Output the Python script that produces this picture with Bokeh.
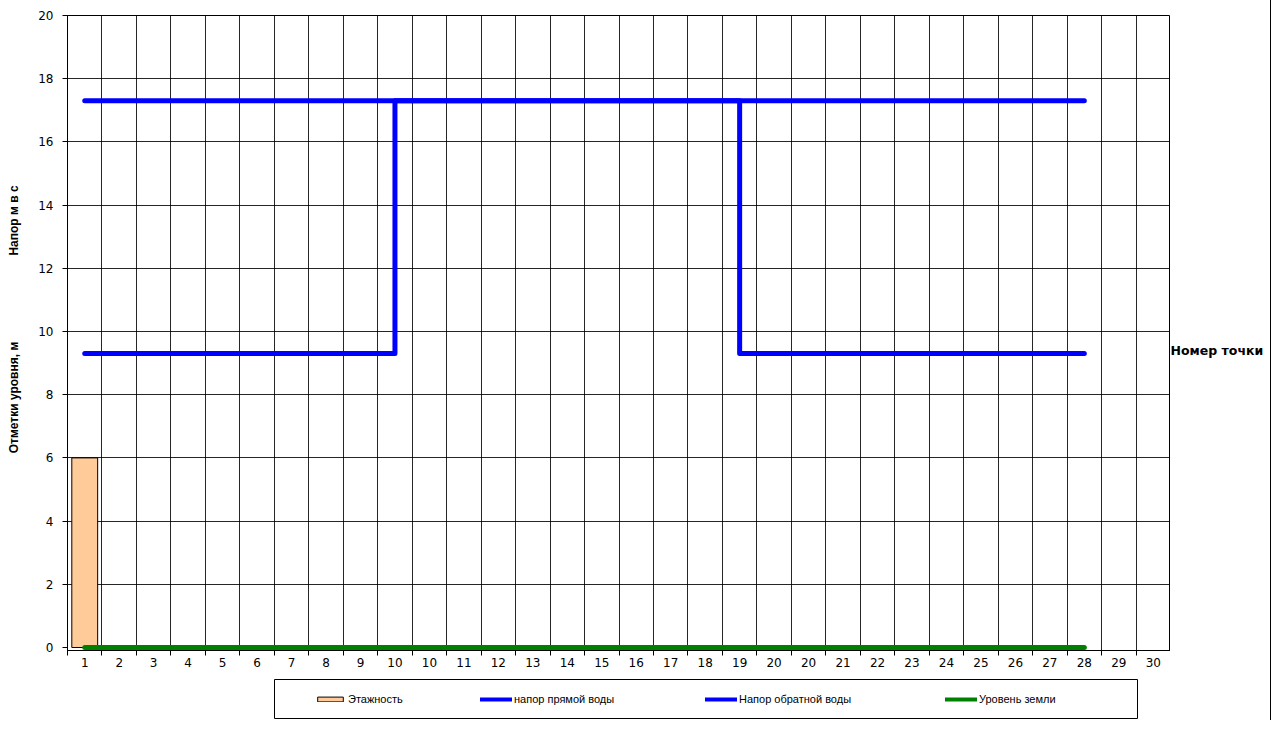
import math
from bokeh.plotting import figure
from bokeh.models import FixedTicker, Range1d, Label, Legend, LegendItem, Div, Spacer
from bokeh.layouts import column, row
from bokeh.embed import file_html
from bokeh.resources import INLINE

# x-axis category labels (point numbers)
point_labels = ["1", "2", "3", "4", "5", "6", "7", "8", "9", "10",
                "10", "11", "12", "13", "14", "15", "16", "17", "18", "19",
                "20", "20", "21", "22", "23", "24", "25", "26", "27", "28",
                "29", "30"]

# series (positions are 1-based indices into point_labels)
floors_pos = [1]
floors_val = [6]
direct_pos = [1, 30]
direct_val = [17.3, 17.3]
return_pos = [1, 10, 10, 20, 20, 30]
return_val = [9.3, 9.3, 17.3, 17.3, 9.3, 9.3]
ground_pos = [1, 30]
ground_val = [0, 0]

y_ticks = [0, 2, 4, 6, 8, 10, 12, 14, 16, 18, 20]

FONT = "DejaVu Sans"
TFONT = "Liberation Sans"
n = len(point_labels)

BAR_FILL = "#FFCC99"
BLUE = "#0000FF"
GREEN = "#008000"

H_MAIN = 679
FRAME_W = 1103
FRAME_H = 632
PAD_BOTTOM_PX = 3  # room below zero so the ground line is not cut by the frame
px_per_unit = FRAME_H / (y_ticks[-1] - y_ticks[0])
y_start = -PAD_BOTTOM_PX / px_per_unit

p = figure(width=37 + FRAME_W, height=H_MAIN, output_backend="svg", toolbar_location=None,
           x_range=Range1d(0.5, n + 0.5), y_range=Range1d(y_start, y_ticks[-1]),
           min_border_left=37, min_border_right=0, min_border_top=15,
           min_border_bottom=H_MAIN - 15 - FRAME_H - PAD_BOTTOM_PX)
p.outline_line_color = "black"
p.outline_line_width = 1

centers = list(range(1, n + 1))
bounds = [i + 0.5 for i in range(0, n + 1)]
p.xaxis.ticker = FixedTicker(ticks=centers, minor_ticks=bounds)
p.xaxis.major_label_overrides = {c: lab for c, lab in zip(centers, point_labels)}
p.xaxis.major_tick_out = 0
p.xaxis.major_tick_in = 0
p.xaxis.minor_tick_out = 5
p.xaxis.minor_tick_in = 0
p.xaxis.major_label_standoff = 2
p.yaxis.ticker = FixedTicker(ticks=y_ticks)
p.yaxis.major_tick_out = 5
p.yaxis.major_tick_in = 0
p.yaxis.minor_tick_out = 0
p.yaxis.minor_tick_in = 0
p.yaxis.major_label_standoff = 9
for ax in (p.xaxis[0], p.yaxis[0]):
    ax.axis_line_color = "black"
    ax.major_tick_line_color = "black"
    ax.minor_tick_line_color = "black"
    ax.major_label_text_font = FONT
    ax.major_label_text_font_size = "12px"
    ax.major_label_text_color = "black"

p.xgrid.ticker = FixedTicker(ticks=bounds)
p.ygrid.ticker = FixedTicker(ticks=y_ticks[1:])
for g in (p.xgrid[0], p.ygrid[0]):
    g.grid_line_color = "black"
    g.grid_line_alpha = 0.85
    g.grid_line_width = 1

p.vbar(x=floors_pos, top=floors_val, bottom=0, width=0.75,
       fill_color=BAR_FILL, line_color="black", line_width=1)
p.line(direct_pos, direct_val, line_color=BLUE, line_width=5, line_cap="round", line_join="round")
p.line(return_pos, return_val, line_color=BLUE, line_width=5, line_cap="round", line_join="round")
p.line(ground_pos, ground_val, line_color=GREEN, line_width=5, line_cap="round", line_join="round")


def text_fig(w, h):
    f = figure(width=w, height=h, output_backend="svg", toolbar_location=None,
               x_range=Range1d(0, 1), y_range=Range1d(0, 1),
               x_axis_type=None, y_axis_type=None, min_border=0)
    f.grid.visible = False
    f.outline_line_color = None
    return f


# observed: labels in the side strips sit ~29px higher than requested
STRIP_BOTTOM = H_MAIN - 29

# left strip: y-axis titles
lt = text_fig(30, H_MAIN)
lt.add_layout(Label(x=13, y=STRIP_BOTTOM - 397, x_units="screen", y_units="screen", text="Отметки уровня, м",
                    angle=math.pi / 2, text_align="center", text_baseline="middle",
                    text_font=TFONT, text_font_size="12px", text_font_style="bold", text_color="black"))
lt.add_layout(Label(x=13, y=STRIP_BOTTOM - 220, x_units="screen", y_units="screen", text="Напор м в с",
                    angle=math.pi / 2, text_align="center", text_baseline="middle",
                    text_font=TFONT, text_font_size="12px", text_font_style="bold", text_color="black"))

# right strip: x-axis title
rt = text_fig(100, H_MAIN)
rt.add_layout(Label(x=0, y=STRIP_BOTTOM - 350, x_units="screen", y_units="screen", text="Номер точки",
                    text_align="left", text_baseline="middle",
                    text_font=FONT, text_font_size="12.5px", text_font_style="bold", text_color="black"))

# legend box
lf = text_fig(864, 40)
lf.outline_line_color = "black"
lf.outline_line_width = 1
r1 = lf.vbar(x=[-5], top=[-5], bottom=-6, width=0.5, fill_color=BAR_FILL, line_color="black", line_width=1)
r2 = lf.line(x=[-5, -4], y=[-5, -5], line_color=BLUE, line_width=4, line_cap="round")
r3 = lf.line(x=[-5, -4], y=[-5, -5], line_color=BLUE, line_width=4, line_cap="round")
r4 = lf.line(x=[-5, -4], y=[-5, -5], line_color=GREEN, line_width=4, line_cap="round")

leg_specs = [("Этажность", r1, 40, 6), ("напор прямой воды", r2, 206, 14),
             ("Напор обратной воды", r3, 431, 14), ("Уровень земли", r4, 671, 14)]
for lab, r, xpos, gh in leg_specs:
    lg = Legend(items=[LegendItem(label=lab, renderers=[r])], location=(xpos, 13),
                orientation="horizontal", padding=0, margin=0, spacing=0,
                border_line_alpha=0, background_fill_alpha=0,
                glyph_width=32, glyph_height=gh, label_height=14, label_standoff=2,
                label_text_font=TFONT, label_text_font_size="11px", label_text_color="black")
    lf.add_layout(lg)

top_row = row(lt, p, rt)
leg_row = row(Spacer(width=274, height=40), lf)
edge = Div(width=1, height=720, margin=0, styles={"background-color": "black"})
layout = row(column(top_row, leg_row), edge)

open("out.html", "w").write(file_html(layout, INLINE))
